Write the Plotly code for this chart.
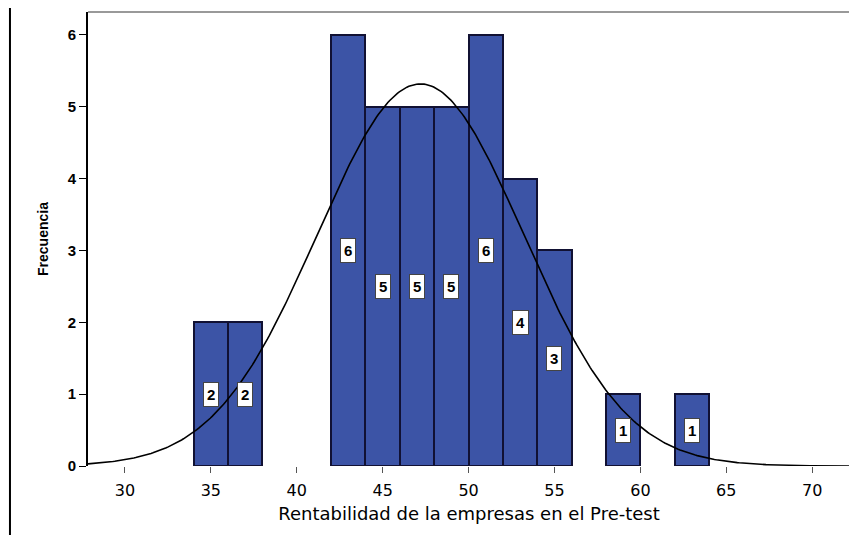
import plotly.graph_objects as go
import numpy as np

# --- data ---
bin_centers = [35, 37, 43, 45, 47, 49, 51, 53, 55, 59, 63]
counts = [2, 2, 6, 5, 5, 5, 6, 4, 3, 1, 1]
bin_width = 2
n_total = sum(counts)

# normal curve parameters (as drawn by SPSS)
curve_mean = 47.2
curve_sd = 6.0

x_ticks = [30, 35, 40, 45, 50, 55, 60, 65, 70]
y_ticks = [0, 1, 2, 3, 4, 5, 6]

BAR_COLOR = '#3c54a6'
FONT = 'Liberation Sans'

fig = go.Figure()

fig.add_trace(go.Bar(
    x=bin_centers, y=counts, width=bin_width,
    marker=dict(color=BAR_COLOR, line=dict(color='#111133', width=2)),
    hoverinfo='x+y', showlegend=False,
))

xs = np.linspace(27.85, 72.2, 400)
ys = n_total * bin_width / (curve_sd * np.sqrt(2 * np.pi)) * np.exp(-0.5 * ((xs - curve_mean) / curve_sd) ** 2)
fig.add_trace(go.Scatter(x=xs, y=ys, mode='lines', line=dict(color='black', width=1.6),
                         hoverinfo='skip', showlegend=False))

# count labels in the middle of each bar
for xc, c in zip(bin_centers, counts):
    fig.add_annotation(x=xc, y=c / 2, text=f'<b>{c}</b>', showarrow=False,
                       font=dict(family=FONT, size=15, color='black'),
                       bgcolor='white', borderpad=3, bordercolor='#444', borderwidth=1)

# frame: gray top, dark right, page border on the left
fig.add_shape(type='line', xref='paper', yref='paper', x0=0, x1=1, y0=1, y1=1,
              line=dict(color='#999999', width=2))
fig.add_shape(type='line', xref='paper', yref='paper', x0=1, x1=1, y0=0, y1=1,
              line=dict(color='#222222', width=2))
fig.add_shape(type='line', xref='paper', yref='paper', x0=-0.1024, x1=-0.1024, y0=-0.16, y1=1.02,
              line=dict(color='black', width=2))

# page body has an 8px margin, so the figure is 8px smaller on each axis
fig.update_layout(
    width=849, height=527,
    margin=dict(l=80, r=7, t=4, b=69, autoexpand=False),
    paper_bgcolor='white', plot_bgcolor='white',
    bargap=0,
    font=dict(family=FONT, color='black'),
    xaxis=dict(
        range=[27.85, 72.2], tickvals=x_ticks, ticks='outside', ticklen=6, tickcolor='#555',
        showgrid=False, zeroline=False, showline=False, ticklabelstandoff=4,
        tickfont=dict(family='DejaVu Sans', size=16),
        title=dict(text='Rentabilidad de la empresas en el Pre-test',
                   font=dict(family='DejaVu Sans', size=18), standoff=8),
    ),
    yaxis=dict(
        range=[0, 6.32], tickvals=y_ticks, ticks='outside', ticklen=7, tickcolor='black',
        showgrid=False, zeroline=False, showline=True, linecolor='black', linewidth=2,
        tickfont=dict(family=FONT, size=15, weight='bold'),
        title=dict(text='<b>Frecuencia</b>', font=dict(family=FONT, size=14), standoff=16),
    ),
)

fig.write_html("out.html")
